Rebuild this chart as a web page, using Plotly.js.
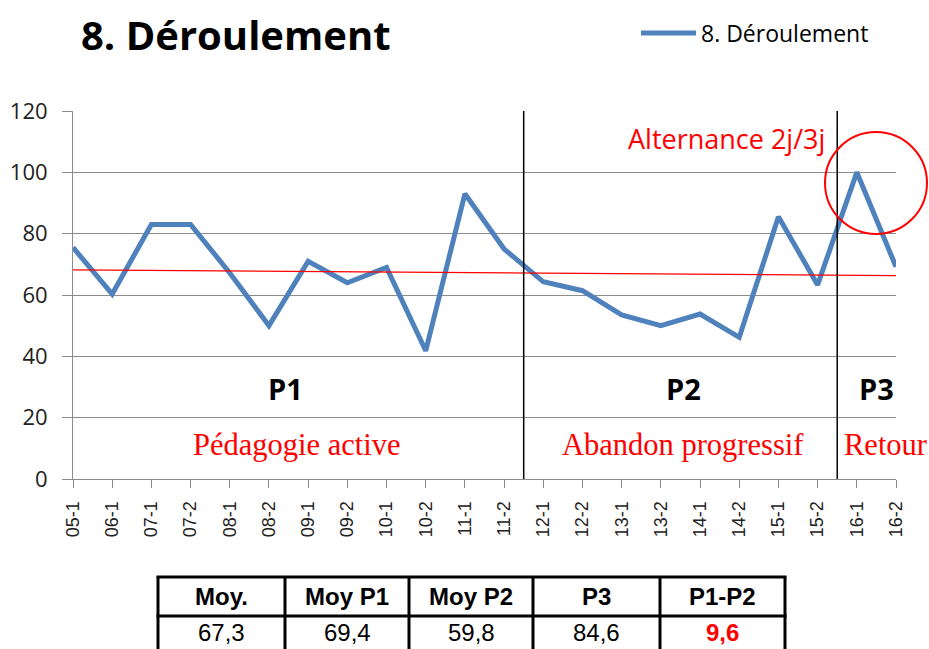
<!DOCTYPE html>
<html>
<head>
<meta charset="utf-8">
<script src="https://cdn.plot.ly/plotly-3.0.1.min.js"></script>
<style>
html, body { margin:0; padding:0; overflow:hidden; background:#fff; }
#chart { width:929px; height:649px; }
</style>
</head>
<body>
<div id="chart"></div>
<script>
// ---- data ----
const categories = ['05-1','06-1','07-1','07-2','08-1','08-2','09-1','09-2','10-1','10-2','11-1','11-2',
                    '12-1','12-2','13-1','13-2','14-1','14-2','15-1','15-2','16-1','16-2'];
const values = [75.5, 60.3, 83, 83, 67.2, 50, 71, 64, 69, 41.8, 93, 75,
                64.3, 61.4, 53.5, 50, 53.8, 46.2, 85.5, 63.3, 100, 69.2];
const seriesName = '8. Déroulement';
const periodLabels = ['P1', 'P2', 'P3'];
const periodNotes = ['Pédagogie active', 'Abandon progressif', 'Retour'];
const periodBreaks = [11.5, 19.5];
const tableHeaders = ['Moy.', 'Moy P1', 'Moy P2', 'P3', 'P1-P2'];
const tableValues = ['67,3', '69,4', '59,8', '84,6', '9,6'];
const yTicks = [0, 20, 40, 60, 80, 100, 120];

// ---- layout helpers (pixel -> paper) ----
const W = 929, H = 649;
const px = x => x / W;
const py = y => 1 - y / H;

// linear trend (least squares over category index)
const n = values.length;
let sx = 0, sy = 0, sxx = 0, sxy = 0;
values.forEach((v, i) => { sx += i; sy += v; sxx += i * i; sxy += i * v; });
const slope = (n * sxy - sx * sy) / (n * sxx - sx * sx);
const intercept = (sy - slope * sx) / n;
const trend = values.map((_, i) => intercept + slope * i);

const blue = '#4F81BD';
const red = '#FF0000';
const grid = '#8C8C8C';

const traces = [
  {
    type: 'scatter', mode: 'lines', name: seriesName,
    x: categories, y: values,
    line: { color: blue, width: 5 },
    showlegend: true, hoverinfo: 'x+y'
  },
  {
    type: 'scatter', mode: 'lines', name: 'Tendance',
    x: categories, y: trend,
    line: { color: red, width: 1.2 },
    showlegend: false, hoverinfo: 'skip'
  }
];

const annotations = [];
const shapes = [];

// period labels & notes
const pLabelX = [285, 683, 876];
periodLabels.forEach((t, i) => annotations.push({
  text: '<b>' + t + '</b>', xref: 'paper', yref: 'paper', x: px(pLabelX[i]), y: py(388),
  xanchor: 'center', yanchor: 'middle', showarrow: false,
  font: { family: 'Open Sans, sans-serif', size: 29, color: '#000' }
}));
const noteX = [296, 683, 842];
const noteAnchor = ['center', 'center', 'left'];
periodNotes.forEach((t, i) => annotations.push({
  text: t, xref: 'paper', yref: 'paper', x: px(noteX[i]), y: py(445),
  xanchor: noteAnchor[i], yanchor: 'middle', showarrow: false,
  font: { family: 'Liberation Serif, serif', size: 30.5, color: red }
}));
annotations.push({
  text: 'Alternance 2j/3j', xref: 'paper', yref: 'paper', x: px(726), y: py(138),
  xanchor: 'center', yanchor: 'middle', showarrow: false,
  font: { family: 'Open Sans, sans-serif', size: 27, color: red }
});

// period separators
periodBreaks.forEach(b => shapes.push({
  type: 'line', xref: 'x', yref: 'y', x0: b, x1: b, y0: 0, y1: 120,
  line: { color: '#000000', width: 1.5 }
}));
// highlight circle
const circ = { cx: 876, cy: 183, r: 51 };
shapes.push({
  type: 'circle', xref: 'paper', yref: 'paper',
  x0: px(circ.cx - circ.r), x1: px(circ.cx + circ.r),
  y0: py(circ.cy + circ.r), y1: py(circ.cy - circ.r),
  line: { color: red, width: 2 }
});

// summary table (drawn with shapes + text)
const colEdges = [158, 285, 409, 533, 660, 785];
const rowEdges = [577, 616, 655];
colEdges.forEach(xe => shapes.push({
  type: 'line', xref: 'paper', yref: 'paper', x0: px(xe), x1: px(xe), y0: py(rowEdges[0]), y1: py(rowEdges[2]),
  line: { color: '#000', width: 3 }
}));
rowEdges.forEach(ye => shapes.push({
  type: 'line', xref: 'paper', yref: 'paper', x0: px(colEdges[0] - 1.5), x1: px(colEdges[colEdges.length - 1] + 1.5), y0: py(ye), y1: py(ye),
  line: { color: '#000', width: 3 }
}));
tableHeaders.forEach((h, i) => {
  const cx = (colEdges[i] + colEdges[i + 1]) / 2;
  annotations.push({
    text: '<b>' + h + '</b>', xref: 'paper', yref: 'paper', x: px(cx), y: py(596.5),
    xanchor: 'center', yanchor: 'middle', showarrow: false,
    font: { family: 'Liberation Sans, Arial, sans-serif', size: 24, color: '#000' }
  });
  const last = i === tableValues.length - 1;
  annotations.push({
    text: last ? '<b>' + tableValues[i] + '</b>' : tableValues[i],
    xref: 'paper', yref: 'paper', x: px(cx), y: py(632),
    xanchor: 'center', yanchor: 'middle', showarrow: false,
    font: { family: 'Liberation Sans, Arial, sans-serif', size: 24, color: last ? red : '#000' }
  });
});

const layout = {
  width: W, height: H,
  margin: { l: 0, r: 0, t: 0, b: 0 },
  paper_bgcolor: '#FFFFFF', plot_bgcolor: '#FFFFFF',
  font: { family: 'Open Sans, sans-serif', color: '#000' },
  title: {
    text: '<b>8. Déroulement</b>', xref: 'container', yref: 'container',
    x: px(81), xanchor: 'left', y: py(36), yanchor: 'middle',
    font: { family: 'Open Sans, sans-serif', size: 40, color: '#000' }
  },
  showlegend: true,
  legend: {
    x: px(636), y: py(33), xanchor: 'left', yanchor: 'middle',
    bgcolor: 'rgba(0,0,0,0)', itemwidth: 55,
    font: { family: 'Open Sans, sans-serif', size: 23, color: '#000' }
  },
  xaxis: {
    type: 'category', domain: [px(73), px(896)], range: [0, categories.length - 1],
    showgrid: false, zeroline: false,
    showline: true, linecolor: grid, linewidth: 1,
    ticks: 'outside', ticklen: 8, tickcolor: grid, tickwidth: 1,
    tickangle: -90, ticklabelstandoff: 6,
    tickfont: { family: 'Liberation Sans, Arial, sans-serif', size: 18, color: '#222' },
    fixedrange: true
  },
  yaxis: {
    domain: [py(479), py(111)], range: [0, 120],
    tickmode: 'array', tickvals: yTicks, ticktext: yTicks.map(String),
    showgrid: true, gridcolor: grid, gridwidth: 1,
    zeroline: false, showline: true, linecolor: grid, linewidth: 1,
    ticks: 'outside', ticklen: 10, tickcolor: grid, tickwidth: 1,
    ticklabelstandoff: 10,
    tickfont: { family: 'Open Sans, sans-serif', size: 22, color: '#222' },
    fixedrange: true
  },
  annotations: annotations,
  shapes: shapes
};

Plotly.newPlot('chart', traces, layout, { displayModeBar: false, staticPlot: true });
</script>
</body>
</html>
